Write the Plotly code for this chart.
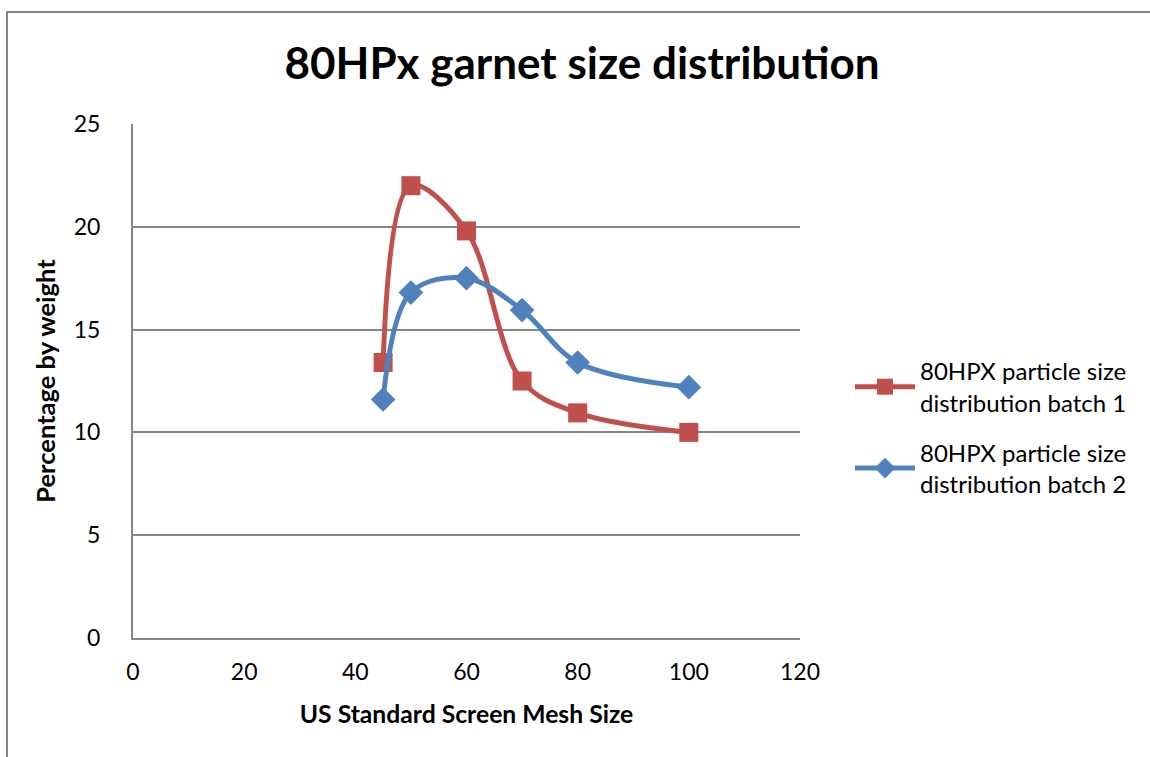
import plotly.graph_objects as go

mesh = [45, 50, 60, 70, 80, 100]
batch1 = [13.4, 22.0, 19.8, 12.5, 10.95, 10.0]
batch2 = [11.6, 16.8, 17.5, 15.95, 13.4, 12.2]
names = ["80HPX particle size<br>distribution batch 1", "80HPX particle size<br>distribution batch 2"]
x_ticks = [0, 20, 40, 60, 80, 100, 120]
y_ticks = [0, 5, 10, 15, 20, 25]

FONT = "Lato, 'Open Sans', sans-serif"
fig = go.Figure()
fig.add_trace(go.Scatter(x=mesh, y=batch1, name=names[0], mode="lines+markers", legendgroup="a",
                         line=dict(color="#C0504D", width=5, shape="spline", smoothing=1),
                         marker=dict(symbol="square", size=19, color="#C0504D")))
fig.add_trace(go.Scatter(x=mesh, y=batch2, name=names[1], mode="lines+markers", legendgroup="b",
                         line=dict(color="#4F81BD", width=5, shape="spline", smoothing=1),
                         marker=dict(symbol="diamond", size=19, color="#4F81BD")))

L, R, T, B = 133, 800, 124, 638
W, H = 1150, 757
fig.update_layout(
    width=W, height=H,
    margin=dict(l=L, r=W - R, t=T, b=H - B),
    plot_bgcolor="white", paper_bgcolor="white",
    font=dict(family=FONT, size=23, color="black"),
    title=dict(text="<b>80HPx garnet size distribution</b>", x=(582 - L) / (R - L), xref="paper",
               xanchor="center", y=1 - 64 / H, yanchor="middle", yref="container",
               font=dict(size=44, family=FONT)),
    xaxis=dict(range=[0, 120], tickvals=x_ticks, showgrid=False, zeroline=False,
               showline=True, linecolor="#868686", linewidth=2, ticks="",
               ticklabelstandoff=12,
               title=dict(text="<b>US Standard Screen Mesh Size</b>", font=dict(size=24.7), standoff=22)),
    yaxis=dict(range=[0, 25], tickvals=y_ticks, showgrid=True, gridcolor="#868686", gridwidth=1.5,
               zeroline=False, showline=True, linecolor="#868686", linewidth=2, ticks="",
               ticklabelstandoff=26,
               title=dict(text="<b>Percentage by weight</b>", font=dict(size=25.5), standoff=11)),
    legend=dict(x=(850 - L) / (R - L), y=(B - 349) / (B - T), xanchor="left", yanchor="top",
                font=dict(size=24), tracegroupgap=16, itemwidth=60, bgcolor="rgba(0,0,0,0)"),
    showlegend=True,
)
fig.add_shape(type="rect", xref="paper", yref="paper",
              x0=(7 - L) / (R - L), x1=(1165 - L) / (R - L),
              y0=(B - 775) / (B - T), y1=(B - 12) / (B - T),
              line=dict(color="#868686", width=2), fillcolor="rgba(0,0,0,0)", layer="below")
fig.write_html("out.html")
